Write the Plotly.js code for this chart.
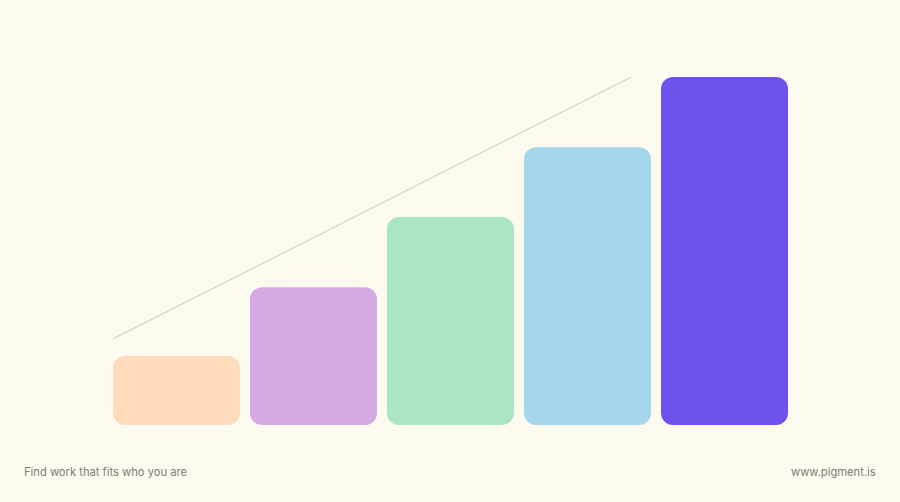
<!DOCTYPE html>
<html>
<head>
<meta charset="utf-8">
<script src="https://cdn.plot.ly/plotly-3.0.1.min.js"></script>
<style>html,body{margin:0;padding:0;background:#FCFAEE;}#chart{width:900px;height:502px;}</style>
</head>
<body>
<div id="chart"></div>
<script>
const categories = [0, 1, 2, 3, 4];
const values = [0.99, 1.98, 2.99, 3.99, 5.0];
const colors = ["#FFDBBC", "#D5AAE4", "#AAE6C6", "#A5D7EC", "#6F52EC"];
const trendX = [-0.46, 3.32];
const trendY = [1.24, 5.0];
const footerLeft = "Find work that fits who you are";
const footerRight = "www.pigment.is";

const upper = {
  type: "bar", x: categories,
  base: values.map(v => v * 0.3),
  y: values.map(v => v * 0.7),
  marker: {color: colors, cornerradius: 12, line: {width: 0}},
  width: 0.927, hoverinfo: "skip", showlegend: false
};
const lower = {
  type: "bar", x: categories,
  base: values.map(v => v * 0.7),
  y: values.map(v => -v * 0.7),
  marker: {color: colors, cornerradius: 12, line: {width: 0}},
  width: 0.927, hoverinfo: "skip", showlegend: false
};
const trend = {
  type: "scatter", mode: "lines", x: trendX, y: trendY,
  line: {color: "#D9D5C3", width: 1.3}, hoverinfo: "skip", showlegend: false
};

const layout = {
  width: 900, height: 502,
  paper_bgcolor: "#FCFAEE", plot_bgcolor: "#FCFAEE",
  margin: {l: 108, r: 107, t: 77, b: 77},
  barmode: "overlay",
  xaxis: {range: [-0.5, 4.5], visible: false, fixedrange: true},
  yaxis: {range: [0, 5], visible: false, fixedrange: true},
  showlegend: false,
  annotations: [
    {text: footerLeft, xref: "paper", yref: "paper", x: (22 - 108) / 685, y: -47 / 348,
     xanchor: "left", yanchor: "middle", showarrow: false,
     font: {family: "Inter, 'Noto Sans', sans-serif", size: 11.2, color: "#7E7E78"}},
    {text: footerRight, xref: "paper", yref: "paper", x: (878 - 108) / 685, y: -47 / 348,
     xanchor: "right", yanchor: "middle", showarrow: false,
     font: {family: "Inter, 'Noto Sans', sans-serif", size: 11.2, color: "#7E7E78"}}
  ]
};

Plotly.newPlot("chart", [lower, upper, trend], layout, {displayModeBar: false, staticPlot: true});
</script>
</body>
</html>
